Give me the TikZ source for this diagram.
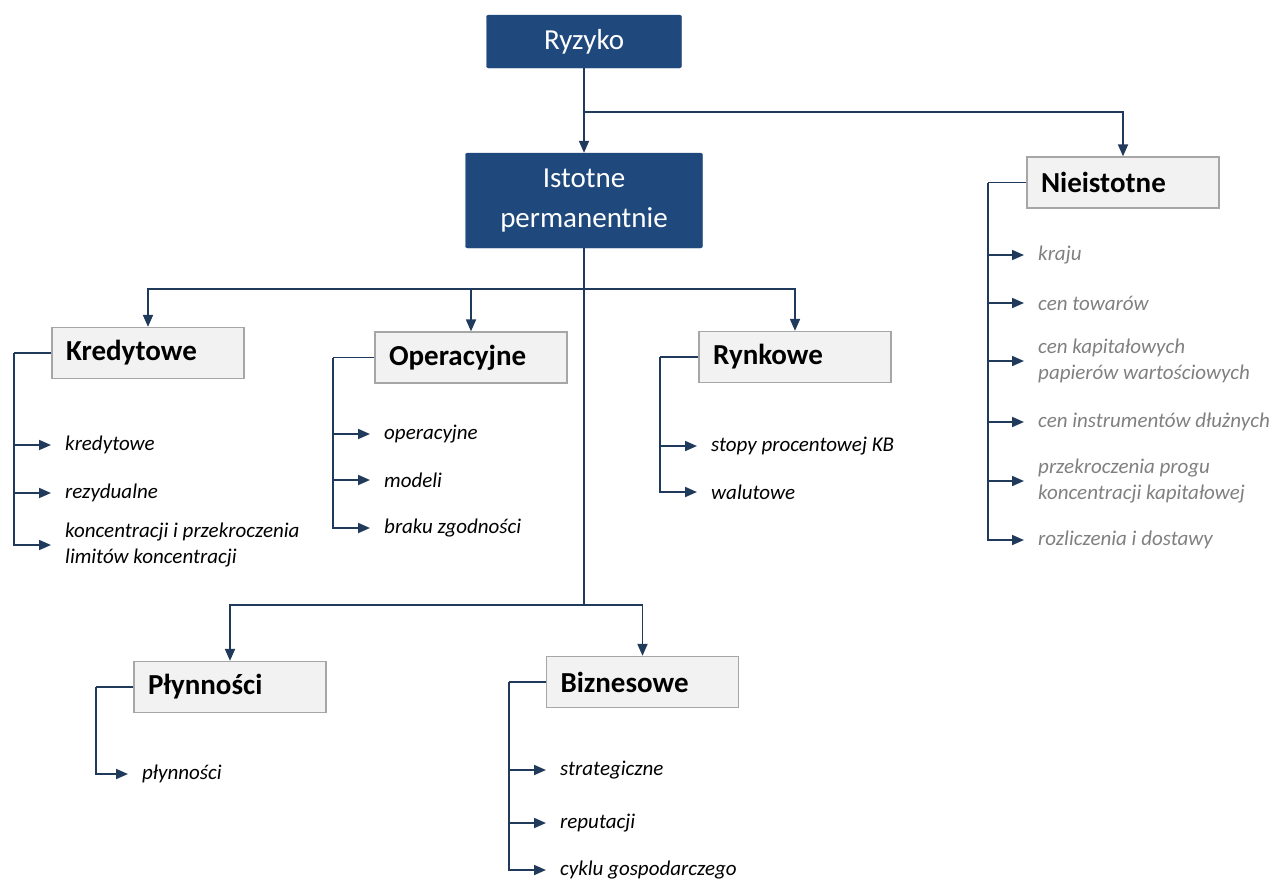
\documentclass[tikz,border=0pt]{standalone}
\usepackage{fontspec}
\setmainfont{Carlito}
\usetikzlibrary{arrows.meta,positioning,calc}
\definecolor{boxblue}{HTML}{1F497D}
\definecolor{linkblue}{HTML}{203A5C}
\definecolor{boxgray}{HTML}{F2F2F2}
\definecolor{edgegray}{HTML}{A6A6A6}
\definecolor{itemgray}{HTML}{808080}
\begin{document}
\begin{tikzpicture}[x=1pt,y=-1pt,>={Triangle[length=12pt,width=10pt]},
  topbox/.style={fill=boxblue,draw=boxblue,rounded corners=2pt,text=white,align=center,inner sep=0pt,font=\fontsize{29}{40}\selectfont},
  riskbox/.style={fill=boxgray,draw=edgegray,line width=1.3pt,text width=164pt,inner xsep=14pt,minimum height=51pt,align=left,font=\fontsize{29}{34}\selectfont\bfseries},
  item/.style={anchor=west,inner xsep=14pt,inner ysep=0pt,align=left,font=\fontsize{21}{26}\selectfont\itshape},
  grayitem/.style={item,text=itemgray},
  link/.style={draw=linkblue,line width=1.8pt}]
\useasboundingbox (0,0) rectangle (1284,879);
% top of the tree
\node[topbox,minimum width=195pt,minimum height=53pt] (ryz) at (584,41.5) {Ryzyko};
\node[topbox,minimum width=237pt,minimum height=95pt] (ist) at (584,200.5) {Istotne\\permanentnie};
\node[riskbox] (nie) at (1123,182.5) {Nieistotne};
\coordinate (split) at (584,112);
\draw[link,->] (ryz) -- (ist);
\draw[link,->] (split) -| (nie);
% groups of the material risks
\node[riskbox] (kred) at (148,353) {Kredytowe};
\node[riskbox] (oper) at (471,357.5) {Operacyjne};
\node[riskbox] (rynk) at (795,357) {Rynkowe};
\node[riskbox] (plyn) at (230,687) {Płynności};
\node[riskbox] (bizn) at (642.5,682) {Biznesowe};
\coordinate (fork1) at (584,289); \coordinate (fork2) at (584,605);
\draw[link] (ist) -- (fork2);
\foreach \g in {kred,oper,rynk}{\draw[link,->] (fork1) -| (\g);}
\foreach \g in {plyn,bizn}{\draw[link,->] (fork2) -| (\g);}
% lists under each group
\coordinate (kspine) at (14,353); \draw[link] (kred.west) -- (kspine);
\foreach \n/\y/\t in {k1/445/kredytowe,k2/493/rezydualne,k3/545/{koncentracji i przekroczenia\\limitów koncentracji}}{\node[item] (\n) at (51,\y) {\t}; \draw[link,->] (kspine) |- (\n);}
\coordinate (ospine) at (333,357.5); \draw[link] (oper.west) -- (ospine);
\foreach \n/\y/\t in {o1/434/operacyjne,o2/480/modeli,o3/528/braku zgodności}{\node[item] (\n) at (370,\y) {\t}; \draw[link,->] (ospine) |- (\n);}
\coordinate (rspine) at (660,357); \draw[link] (rynk.west) -- (rspine);
\foreach \n/\y/\t in {r1/446/stopy procentowej KB,r2/492/walutowe}{\node[item] (\n) at (697,\y) {\t}; \draw[link,->] (rspine) |- (\n);}
\coordinate (nspine) at (988,182.5); \draw[link] (nie.west) -- (nspine);
\foreach \n/\y/\t in {n1/255/kraju,n2/303/cen towarów,n3/361/{cen kapitałowych\\papierów wartościowych},n4/422/cen instrumentów dłużnych,n5/481/{przekroczenia progu\\koncentracji kapitałowej},n6/540/rozliczenia i dostawy}{\node[grayitem] (\n) at (1024,\y) {\t}; \draw[link,->] (nspine) |- (\n);}
\coordinate (pspine) at (96,687); \draw[link] (plyn.west) -- (pspine);
\node[item] (p1) at (128,774) {płynności}; \draw[link,->] (pspine) |- (p1);
\coordinate (bspine) at (509,682); \draw[link] (bizn.west) -- (bspine);
\foreach \n/\y/\t in {b1/770/strategiczne,b2/823/reputacji,b3/870/cyklu gospodarczego}{\node[item] (\n) at (546,\y) {\t}; \draw[link,->] (bspine) |- (\n);}
\end{tikzpicture}
\end{document}
